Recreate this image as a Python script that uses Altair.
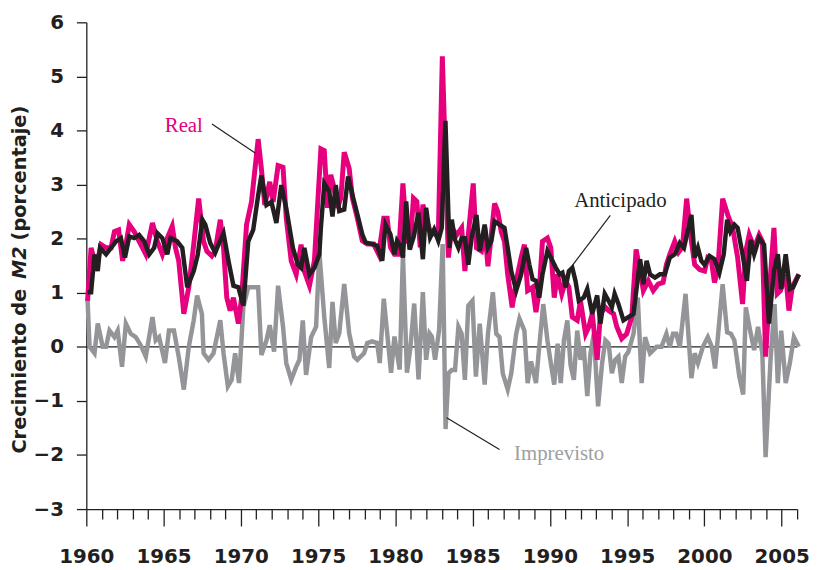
import altair as alt
import pandas as pd

real = [(1960.08,0.85),(1960.31,1.83),(1960.63,1.46),(1960.95,1.89),(1961.28,1.83),(1961.60,1.83),(1961.82,2.13),(1962.09,2.16),(1962.35,1.59),(1962.56,1.89),(1962.78,2.26),(1963.10,2.13),(1963.42,1.95),(1963.85,1.71),(1964.28,2.29),(1964.60,1.95),(1964.92,1.71),(1965.24,2.01),(1965.56,2.23),(1965.77,1.83),(1965.98,1.59),(1966.31,0.61),(1966.63,1.10),(1966.95,1.89),(1967.27,2.74),(1967.59,1.95),(1967.80,1.77),(1968.12,1.68),(1968.34,1.77),(1968.67,2.35),(1968.88,1.83),(1969.09,0.91),(1969.31,0.67),(1969.52,0.91),(1969.84,0.43),(1970.05,0.91),(1970.37,2.26),(1970.69,2.68),(1971.12,3.84),(1971.33,3.29),(1971.55,2.62),(1971.87,3.05),(1972.09,2.68),(1972.41,3.35),(1972.73,3.32),(1972.94,2.38),(1973.26,1.59),(1973.58,1.34),(1973.90,1.89),(1974.11,1.40),(1974.44,1.13),(1974.76,1.59),(1975.18,3.66),(1975.40,3.63),(1975.61,2.57),(1975.82,3.18),(1976.04,2.93),(1976.25,2.57),(1976.47,2.75),(1976.69,3.60),(1977.01,3.30),(1977.22,2.75),(1977.54,2.38),(1977.86,1.96),(1978.18,1.90),(1978.60,1.90),(1978.92,1.71),(1979.25,2.38),(1979.47,2.38),(1979.68,1.84),(1979.94,1.71),(1980.21,1.71),(1980.49,3.02),(1980.75,1.96),(1980.96,1.90),(1981.17,2.75),(1981.39,2.69),(1981.61,1.84),(1981.78,2.63),(1982.04,2.32),(1982.25,2.14),(1982.57,2.08),(1982.78,2.08),(1983.04,5.37),(1983.43,1.65),(1983.65,2.20),(1983.97,2.07),(1984.29,2.20),(1984.50,1.40),(1984.72,2.07),(1985.04,3.02),(1985.25,1.83),(1985.57,1.77),(1985.78,2.20),(1985.99,1.49),(1986.21,2.07),(1986.42,2.65),(1986.63,2.50),(1986.85,2.13),(1987.06,1.95),(1987.27,1.34),(1987.56,0.73),(1987.82,1.22),(1988.14,1.65),(1988.35,1.89),(1988.56,1.04),(1988.88,1.10),(1989.10,0.64),(1989.31,1.04),(1989.52,1.95),(1989.84,2.01),(1990.06,1.83),(1990.28,0.91),(1990.49,1.34),(1990.77,0.98),(1991.02,1.22),(1991.23,1.10),(1991.45,0.55),(1991.77,0.49),(1991.98,0.85),(1992.31,0.24),(1992.52,0.37),(1992.74,0.61),(1993.06,-0.24),(1993.27,0.61),(1993.59,0.73),(1993.80,0.67),(1994.12,0.61),(1994.33,0.37),(1994.65,0.15),(1994.97,0.24),(1995.30,0.55),(1995.58,1.80),(1995.84,1.40),(1996.05,1.04),(1996.37,1.22),(1996.69,1.04),(1997.01,1.16),(1997.33,1.19),(1997.54,1.52),(1997.76,1.71),(1998.08,1.95),(1998.33,1.75),(1998.58,1.85),(1998.85,2.74),(1999.16,1.95),(1999.37,1.52),(1999.69,1.43),(2000.01,1.40),(2000.22,1.65),(2000.44,1.62),(2000.65,1.19),(2000.86,1.40),(2001.18,2.74),(2001.51,2.44),(2001.83,2.20),(2002.15,1.65),(2002.47,0.79),(2002.68,1.77),(2002.90,2.07),(2003.22,1.83),(2003.54,2.07),(2003.75,1.95),(2003.96,-0.18),(2004.28,1.34),(2004.50,2.20),(2004.71,0.98),(2004.92,1.04),(2005.26,1.34),(2005.47,0.67),(2005.68,1.10),(2005.89,1.22),(2006.11,1.34)]

anticipado = [(1960.08,1.01),(1960.31,1.01),(1960.53,1.71),(1960.74,1.40),(1960.89,1.83),(1961.28,1.71),(1961.60,1.83),(1961.92,1.95),(1962.24,2.01),(1962.50,1.65),(1962.78,2.04),(1963.10,2.01),(1963.42,2.07),(1963.75,1.95),(1964.07,1.71),(1964.39,1.83),(1964.60,2.10),(1964.92,2.01),(1965.24,1.71),(1965.45,2.01),(1965.88,1.95),(1966.21,1.83),(1966.53,1.10),(1966.95,1.40),(1967.21,1.70),(1967.51,2.35),(1967.70,2.26),(1968.02,1.92),(1968.34,1.74),(1968.55,1.89),(1968.88,2.10),(1969.20,1.59),(1969.52,1.13),(1969.84,1.10),(1970.16,0.76),(1970.48,1.95),(1970.80,2.16),(1971.12,2.80),(1971.33,3.17),(1971.66,2.62),(1971.98,2.68),(1972.30,2.29),(1972.62,2.99),(1972.94,2.56),(1973.37,1.83),(1973.69,1.52),(1973.90,1.46),(1974.11,1.83),(1974.44,1.34),(1974.76,1.46),(1975.08,1.71),(1975.18,2.20),(1975.40,3.02),(1975.72,2.87),(1975.93,2.41),(1976.14,2.99),(1976.37,2.51),(1976.69,2.54),(1976.94,3.15),(1977.22,2.81),(1977.54,2.45),(1977.86,2.08),(1978.07,1.93),(1978.50,1.90),(1978.82,1.87),(1979.15,1.59),(1979.36,2.26),(1979.68,2.08),(1979.94,1.71),(1980.11,1.96),(1980.32,1.87),(1980.49,1.65),(1980.70,2.69),(1980.92,1.80),(1981.17,2.02),(1981.50,2.48),(1981.78,1.62),(1981.99,2.57),(1982.25,2.02),(1982.51,2.17),(1982.78,1.96),(1983.00,2.20),(1983.24,4.18),(1983.50,1.83),(1983.65,2.35),(1983.86,1.98),(1984.08,1.83),(1984.29,2.01),(1984.50,2.01),(1984.72,1.52),(1984.93,2.01),(1985.25,2.44),(1985.46,1.77),(1985.78,2.26),(1985.99,1.83),(1986.21,1.95),(1986.42,2.32),(1986.74,2.26),(1987.06,2.20),(1987.27,1.83),(1987.50,1.40),(1987.82,1.04),(1988.14,1.34),(1988.46,1.83),(1988.67,1.52),(1988.88,1.25),(1989.10,1.22),(1989.31,0.91),(1989.52,1.34),(1989.84,1.77),(1990.06,1.65),(1990.39,1.46),(1990.64,1.34),(1990.81,1.37),(1991.02,1.10),(1991.23,1.40),(1991.45,1.46),(1991.66,1.22),(1991.87,0.85),(1992.19,0.91),(1992.42,1.07),(1992.74,0.61),(1993.06,0.95),(1993.27,0.43),(1993.55,0.98),(1993.80,0.85),(1994.01,0.73),(1994.19,0.98),(1994.44,0.79),(1994.76,0.49),(1995.08,0.55),(1995.41,0.61),(1995.62,1.10),(1995.84,1.62),(1996.05,1.16),(1996.26,1.59),(1996.48,1.34),(1996.80,1.28),(1997.12,1.34),(1997.44,1.34),(1997.76,1.65),(1998.08,1.71),(1998.41,1.92),(1998.68,1.83),(1999.16,2.44),(1999.37,1.65),(1999.58,1.83),(1999.80,1.59),(2000.01,1.52),(2000.33,1.68),(2000.65,1.62),(2000.97,1.37),(2001.25,1.71),(2001.47,2.35),(2001.68,2.13),(2001.94,2.26),(2002.15,2.20),(2002.47,1.71),(2002.75,1.22),(2003.00,1.98),(2003.22,1.71),(2003.54,2.01),(2003.86,1.89),(2004.18,0.43),(2004.50,1.40),(2004.75,1.71),(2004.97,1.07),(2005.26,1.71),(2005.53,1.07),(2005.74,1.10),(2006.11,1.34)]

imprevisto = [(1960.08,0.88),(1960.21,0.00),(1960.53,-0.12),(1960.74,0.43),(1961.06,0.00),(1961.28,0.00),(1961.50,0.30),(1961.82,0.18),(1962.03,0.30),(1962.31,-0.37),(1962.56,0.43),(1962.88,0.24),(1963.20,0.18),(1963.52,0.03),(1963.85,-0.18),(1964.28,0.55),(1964.49,0.12),(1964.71,0.18),(1965.09,-0.30),(1965.35,0.30),(1965.67,0.30),(1965.98,-0.18),(1966.31,-0.79),(1966.63,0.00),(1966.95,0.49),(1967.17,0.95),(1967.48,0.61),(1967.59,-0.12),(1967.91,-0.24),(1968.23,-0.12),(1968.67,0.49),(1968.88,-0.12),(1969.16,-0.73),(1969.41,-0.61),(1969.63,-0.12),(1969.88,-0.67),(1970.16,0.73),(1970.48,1.10),(1970.80,1.10),(1971.12,1.10),(1971.33,-0.15),(1971.66,0.12),(1971.87,0.40),(1972.15,-0.09),(1972.41,1.13),(1972.73,0.37),(1972.94,-0.30),(1973.26,-0.61),(1973.58,-0.37),(1973.79,-0.24),(1974.01,0.49),(1974.22,-0.52),(1974.55,0.18),(1974.87,0.37),(1975.08,1.75),(1975.40,0.55),(1975.72,-0.39),(1975.93,0.83),(1976.14,0.07),(1976.37,0.25),(1976.69,1.16),(1977.01,0.25),(1977.33,-0.18),(1977.54,-0.24),(1977.97,-0.12),(1978.18,0.07),(1978.50,0.10),(1978.82,0.07),(1978.99,-0.30),(1979.25,0.89),(1979.47,0.25),(1979.72,-0.48),(1979.94,0.19),(1980.11,-0.12),(1980.28,-0.42),(1980.49,1.71),(1980.75,-0.48),(1980.96,-0.05),(1981.22,0.80),(1981.50,-0.60),(1981.78,1.01),(1981.99,-0.24),(1982.21,0.25),(1982.36,0.19),(1982.57,-0.24),(1982.83,0.31),(1983.06,1.90),(1983.25,-1.52),(1983.44,-0.49),(1983.65,-0.43),(1983.86,-0.43),(1984.08,0.37),(1984.29,0.24),(1984.50,-0.61),(1984.72,0.76),(1984.99,0.85),(1985.21,-0.55),(1985.46,0.43),(1985.78,-0.70),(1985.99,0.24),(1986.31,1.01),(1986.53,0.24),(1986.74,0.18),(1986.95,-0.49),(1987.27,-0.79),(1987.50,-0.49),(1987.82,0.24),(1988.03,0.52),(1988.35,0.30),(1988.56,-0.67),(1988.78,-0.27),(1989.10,-0.67),(1989.31,0.00),(1989.57,0.79),(1989.84,0.12),(1990.06,-0.30),(1990.28,-0.70),(1990.50,0.06),(1990.70,-0.67),(1990.91,0.12),(1991.13,0.49),(1991.34,-0.34),(1991.55,-0.61),(1991.77,0.30),(1991.98,-0.24),(1992.19,0.00),(1992.42,-0.91),(1992.63,-0.12),(1992.84,0.24),(1993.12,-1.10),(1993.38,-0.30),(1993.59,0.12),(1993.80,0.06),(1994.01,-0.49),(1994.23,-0.24),(1994.44,-0.18),(1994.65,-0.67),(1994.87,-0.18),(1995.08,-0.09),(1995.41,0.24),(1995.69,0.91),(1995.94,-0.67),(1996.16,0.18),(1996.48,-0.12),(1996.69,-0.06),(1996.90,0.00),(1997.22,0.00),(1997.54,0.24),(1997.76,0.00),(1997.97,0.24),(1998.18,0.24),(1998.41,0.00),(1998.78,0.98),(1999.16,-0.58),(1999.37,-0.12),(1999.58,-0.30),(1999.90,0.00),(2000.22,0.18),(2000.48,0.00),(2000.69,-0.40),(2000.97,0.49),(2001.18,1.16),(2001.47,0.27),(2001.72,0.24),(2001.94,0.12),(2002.26,-0.55),(2002.51,-0.88),(2002.68,0.73),(2002.96,0.30),(2003.22,-0.06),(2003.47,0.37),(2003.75,-0.12),(2003.96,-2.04),(2004.28,-0.24),(2004.54,0.79),(2004.75,-0.67),(2004.97,0.30),(2005.26,-0.67),(2005.53,-0.30),(2005.79,0.18),(2006.11,0.00)]

ann_text = ["Real", "Anticipado", "Imprevisto"]
ann_year = [1966.31, 1994.56, 1990.60]
ann_value = [3.98, 2.58, -2.10]
ann_color = ["#e6007e", "#231f20", "#9d9fa2"]
lead_year = [1968.13, 1993.91, 1983.32]
lead_value = [4.12, 2.43, -1.31]
lead_year2 = [1970.95, 1991.47, 1986.74]
lead_value2 = [3.58, 1.51, -1.90]

x_ticks = list(range(1960, 2007))
y_ticks = list(range(-3, 7))

PINK = "#e6007e"
BLACK = "#231f20"
GRAY = "#939598"

x_axis = alt.Axis(
    values=x_ticks, format="d", title=None, grid=False,
    labelExpr="datum.value % 5 === 0 ? datum.label : ''",
    labelOverlap=False, labelFlush=False,
    tickSize={"condition": {"test": "datum.value % 5 === 0", "value": 17}, "value": 10},
    labelPadding=21,
)
y_axis = alt.Axis(values=y_ticks, title=None, grid=False, tickSize=10, labelPadding=13)

x_enc = alt.X("year:Q", scale=alt.Scale(domain=[1960, 2006], nice=False, zero=False), axis=x_axis)
y_enc = alt.Y("value:Q", scale=alt.Scale(domain=[-3, 6], nice=False, zero=False), axis=y_axis)


def series_df(points):
    return pd.DataFrame(points, columns=["year", "value"])


zero = alt.Chart(pd.DataFrame({"year": [1960], "year2": [2006], "value": [0]})).mark_rule(
    color=BLACK, strokeWidth=1.2
).encode(x=x_enc, x2="year2:Q", y=y_enc)

gray = alt.Chart(series_df(imprevisto)).mark_line(color=GRAY, strokeWidth=4.5).encode(x=x_enc, y=y_enc)
pink = alt.Chart(series_df(real)).mark_line(color=PINK, strokeWidth=5).encode(x=x_enc, y=y_enc)
black = alt.Chart(series_df(anticipado)).mark_line(color=BLACK, strokeWidth=4.5).encode(x=x_enc, y=y_enc)

leaders = alt.Chart(pd.DataFrame({
    "year": lead_year, "value": lead_value, "year2": lead_year2, "value2": lead_value2,
})).mark_rule(color=BLACK, strokeWidth=1.2).encode(x=x_enc, y=y_enc, x2="year2:Q", y2="value2:Q")

labels = alt.Chart(pd.DataFrame({
    "year": ann_year, "value": ann_value, "t": ann_text, "c": ann_color,
})).mark_text(font="Liberation Serif", fontSize=21, align="center", baseline="alphabetic").encode(
    x=x_enc, y=y_enc, text="t:N", color=alt.Color("c:N", scale=None)
)

title_font = dict(font="DejaVu Sans", fontSize=19.5, fontWeight="bold", angle=270,
                  baseline="alphabetic", color=BLACK, align="left")
t1 = alt.Chart(pd.DataFrame({"t": ["Crecimiento de"]})).mark_text(**title_font).encode(
    text="t:N", x=alt.value(-61), y=alt.value(435))
t2 = alt.Chart(pd.DataFrame({"t": ["M2"]})).mark_text(fontStyle="italic", **title_font).encode(
    text="t:N", x=alt.value(-61), y=alt.value(259))
t3 = alt.Chart(pd.DataFrame({"t": ["(porcentaje)"]})).mark_text(**title_font).encode(
    text="t:N", x=alt.value(-61), y=alt.value(220))

chart = alt.layer(zero, gray, pink, black, leaders, labels, t1, t2, t3).properties(
    width=717, height=491,
    padding={"left": 79, "top": 12, "right": 14, "bottom": 58},
    autosize=alt.AutoSizeParams(type="none"),
).configure_view(stroke=None).configure_axis(
    labelFont="DejaVu Sans", labelFontWeight="bold", labelFontSize=20, labelColor=BLACK,
    domainColor=BLACK, domainWidth=1.3, tickColor=BLACK, tickWidth=1.3,
)

chart.save("out.html", embed_options={"renderer": "svg", "actions": False})
